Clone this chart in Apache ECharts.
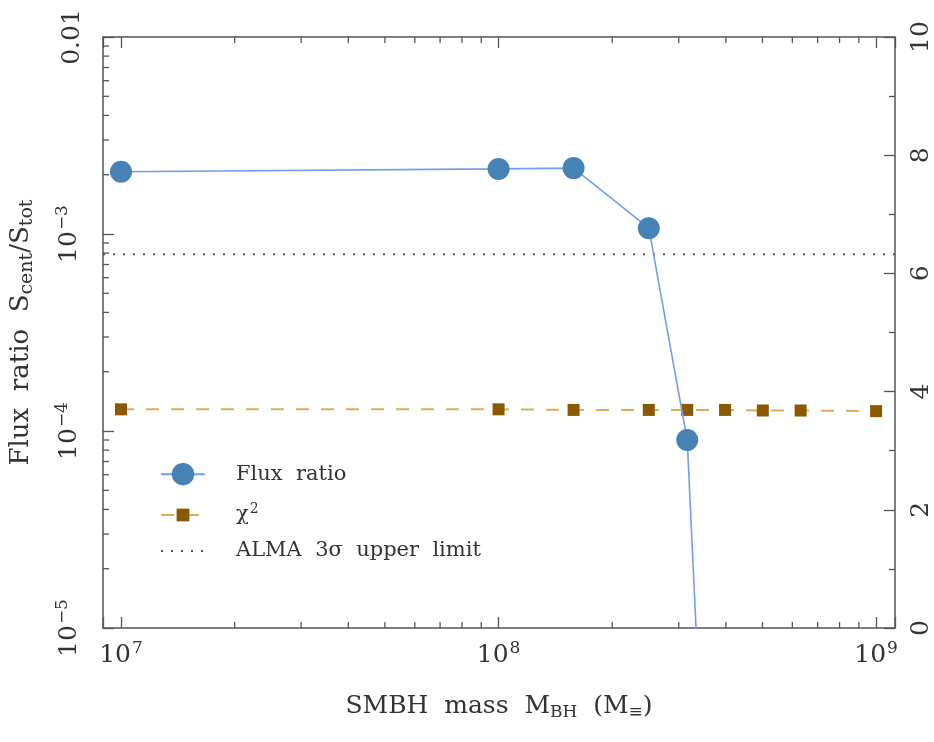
<!DOCTYPE html>
<html><head><meta charset="utf-8">
<script src="https://cdn.jsdelivr.net/npm/echarts@6/dist/echarts.min.js"></script>
<style>html,body{margin:0;padding:0;background:#fff}#c{width:934px;height:742px}</style>
</head><body><div id="c"></div>
<script>
// ---- data ----
const massFlux = [1e7, 1e8, 1.58e8, 2.5e8, 3.16e8, 3.98e8];
const fluxRatio = [2.07e-3, 2.14e-3, 2.16e-3, 1.07e-3, 9.0e-5, 7e-9];
const massChi = [1e7, 1e8, 1.58e8, 2.5e8, 3.16e8, 3.98e8, 5.01e8, 6.31e8, 1e9];
const chi2 = [3.70, 3.70, 3.69, 3.69, 3.69, 3.69, 3.68, 3.68, 3.67];
const almaLimit = 7.9e-4;
const xRange = [8.96e6, 1.122e9];
const yRange = [1e-5, 1e-2];
const chiRange = [0, 10];
const xMinorTicks = [2e7,3e7,4e7,5e7,6e7,7e7,8e7,9e7,2e8,3e8,4e8,5e8,6e8,7e8,8e8,9e8];
const yMinorTicks = [2e-5,3e-5,4e-5,5e-5,6e-5,7e-5,8e-5,9e-5,2e-4,3e-4,4e-4,5e-4,6e-4,7e-4,8e-4,9e-4,2e-3,3e-3,4e-3,5e-3,6e-3,7e-3,8e-3,9e-3];
const legendNames = ['Flux ratio', 'χ2', 'ALMA 3σ upper limit'];

const FONT = 'DejaVu Serif';
const TXT = '#333';
const AX = '#555';

function isPow(v){const l=Math.log10(v);return Math.abs(l-Math.round(l))<1e-6;}
const wide = s => s.split(' ').join('  ');
const supRich = {
  b:{fontFamily:FONT,fontSize:25,color:TXT},
  s:{fontFamily:FONT,fontSize:17,color:TXT,padding:[0,0,14,1]}
};
const legRich = {g:{width:26},t:{fontFamily:FONT,fontSize:21,color:TXT},s:{fontFamily:FONT,fontSize:14,color:TXT,padding:[0,0,12,1]}};

const chart = echarts.init(document.getElementById('c'));
chart.setOption({
  animation:false,
  backgroundColor:'#fff',
  grid:{left:103,right:36,top:37,bottom:114},
  legend:[{
    orient:'vertical',left:155,top:458,itemWidth:44,itemHeight:28,
    data:[legendNames[0]],
    formatter:n=>'{g|}{t|'+wide(n)+'}',
    textStyle:{rich:legRich}
  },{
    orient:'vertical',left:155,top:497,itemWidth:44,itemHeight:16,itemGap:15,
    data:[legendNames[1],{name:legendNames[2],itemStyle:{opacity:0}}],
    formatter:n=> n==='χ2' ? '{g|}{t|χ}{s|2}' : '{g|}{t|'+wide(n)+'}',
    textStyle:{rich:legRich}
  }],
  xAxis:[{
    type:'log',min:xRange[0],max:xRange[1],
    name:'SMBH  mass  M{sub|BH}  (M{sub|≡})',nameLocation:'middle',nameGap:64,
    nameTextStyle:{fontFamily:FONT,fontSize:25,color:TXT,rich:{sub:{fontFamily:FONT,fontSize:17,color:TXT,padding:[12,0,0,0]}}},
    axisLine:{show:true,lineStyle:{color:AX,width:1.5}},
    axisTick:{inside:true,length:11,lineStyle:{color:AX,width:1.3}},
    splitLine:{show:false},
    axisLabel:{margin:12,formatter:v=>isPow(v)?'{b|10}{s|'+Math.round(Math.log10(v))+'}':'',rich:supRich}
  },{
    type:'log',min:xRange[0],max:xRange[1],position:'top',
    axisLine:{show:true,lineStyle:{color:AX,width:1.5}},
    axisTick:{inside:true,length:11,lineStyle:{color:AX,width:1.3}},
    splitLine:{show:false},axisLabel:{show:false}
  }],
  yAxis:[{
    type:'log',min:yRange[0],max:yRange[1],
    name:'Flux  ratio  S{sub|cent}/S{sub|tot}',nameLocation:'middle',nameGap:66,nameRotate:90,
    nameTextStyle:{fontFamily:FONT,fontSize:26,color:TXT,padding:[0,0,0,0],rich:{sub:{fontFamily:FONT,fontSize:19,color:TXT,padding:[12,0,0,0]}}},
    axisLine:{show:true,lineStyle:{color:AX,width:1.5}},
    axisTick:{inside:true,length:11,lineStyle:{color:AX,width:1.3}},
    splitLine:{show:false},
    axisLabel:{rotate:90,margin:18,formatter:v=>{const e=Math.round(Math.log10(v));if(!isPow(v))return '';if(e===-2)return '{b|0.01}';return '{b|10}{s|−'+(-e)+'}';},rich:supRich}
  },{
    type:'value',min:chiRange[0],max:chiRange[1],interval:2,position:'right',
    axisLine:{show:true,lineStyle:{color:AX,width:1.5}},
    axisTick:{inside:true,length:11,lineStyle:{color:AX,width:1.3}},
    minorTick:{show:true,splitNumber:2,length:6,lineStyle:{color:AX,width:1.3}},
    splitLine:{show:false},minorSplitLine:{show:false},
    axisLabel:{rotate:90,margin:14,fontFamily:FONT,fontSize:25,color:TXT}
  }],
  series:[{
    type:'custom',silent:true,xAxisIndex:0,yAxisIndex:0,z:1,
    data:[...xMinorTicks.map(v=>[v,yRange[0],0]),...yMinorTicks.map(v=>[xRange[0],v,1])],
    renderItem:(params,api)=>{
      const cs=params.coordSys;
      const p=api.coord([api.value(0),api.value(1)]);
      const st={stroke:AX,lineWidth:1.3};
      if(api.value(2)===0){
        return {type:'group',children:[
          {type:'line',shape:{x1:p[0],y1:cs.y+cs.height,x2:p[0],y2:cs.y+cs.height-6},style:st},
          {type:'line',shape:{x1:p[0],y1:cs.y,x2:p[0],y2:cs.y+6},style:st}
        ]};
      }
      return {type:'line',shape:{x1:cs.x,y1:p[1],x2:cs.x+6,y2:p[1]},style:st};
    }
  },{
    name:legendNames[2],type:'line',xAxisIndex:0,yAxisIndex:0,symbol:'none',
    data:[[xRange[0],almaLimit],[xRange[1],almaLimit]],
    lineStyle:{color:'#555',width:2,type:[2,8]},itemStyle:{color:'#555'},z:2
  },{
    name:legendNames[1],type:'line',xAxisIndex:0,yAxisIndex:1,
    data:massChi.map((m,i)=>[m,chi2[i]]),
    symbol:'rect',symbolSize:12,
    lineStyle:{color:'#dcae55',width:2,type:[13,12]},
    itemStyle:{color:'#8b5a00'},z:3
  },{
    name:legendNames[0],type:'line',xAxisIndex:0,yAxisIndex:0,clip:true,
    data:massFlux.map((m,i)=>[m,fluxRatio[i]]),
    symbol:'circle',symbolSize:22,
    lineStyle:{color:'#6f9ff0',width:1.6},
    itemStyle:{color:'#4682b4'},z:4
  }]
});
</script></body></html>
